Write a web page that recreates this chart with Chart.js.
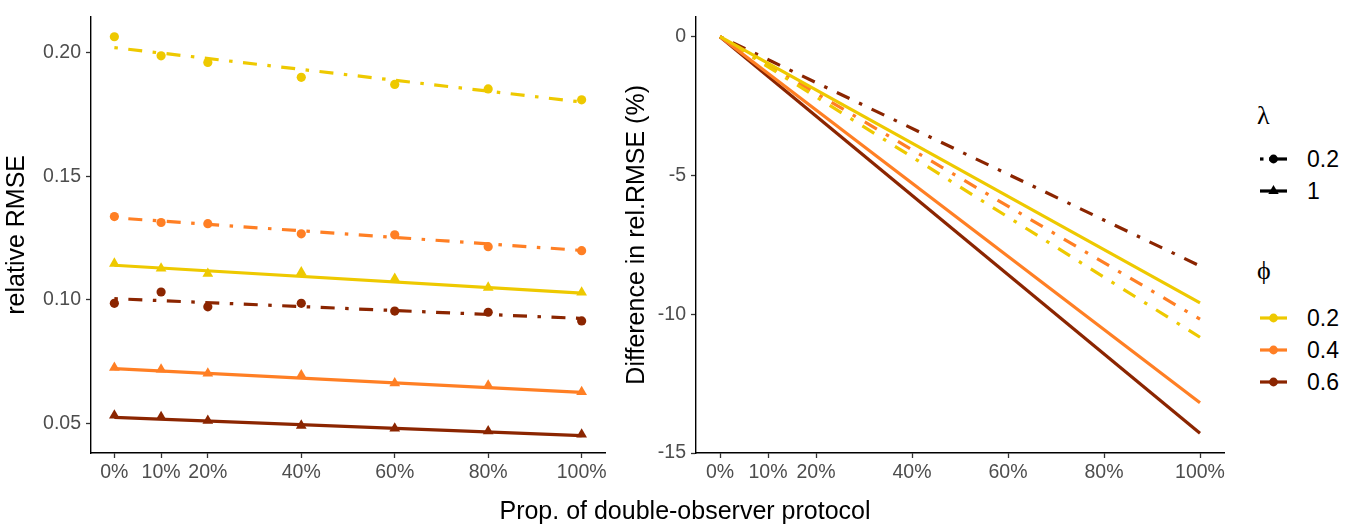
<!DOCTYPE html>
<html>
<head>
<meta charset="utf-8">
<script src="https://cdn.jsdelivr.net/npm/chart.js@4.4.1/dist/chart.umd.min.js"></script>
<style>
  body { margin: 0; background: #fff; font-family: "Liberation Sans", Arial, sans-serif; }
  #wrap { position: relative; width: 1357px; height: 525px; overflow: hidden; }
  canvas { position: absolute; top: 0; }
  .txt { position: absolute; white-space: nowrap; color: #000; }
  .key { position: absolute; }
</style>
</head>
<body>
<div id="wrap">
  <canvas id="leftChart" width="625" height="500" style="left:0px"></canvas>
  <canvas id="rightChart" width="624" height="500" style="left:620px"></canvas>
  <div class="txt" id="xTitle" style="left:0;width:1370px;text-align:center;top:498px;font-size:25px;line-height:25px;">Prop. of double-observer protocol</div>
  <div id="legend"></div>
</div>
<script>
// x values (percent of double-observer protocol)
const xPct = [0, 10, 20, 40, 60, 80, 100];
const fitX = [0, 100];

// left panel: relative RMSE points, lambda = 0.2 (circles)
const rmseLam02Phi02 = [0.2064, 0.1987, 0.1960, 0.1900, 0.1871, 0.1853, 0.1809];
const rmseLam02Phi04 = [0.1337, 0.1313, 0.1308, 0.1267, 0.1263, 0.1215, 0.1199];
const rmseLam02Phi06 = [0.0986, 0.1032, 0.0972, 0.0986, 0.0955, 0.0950, 0.0915];
// lambda = 1 (triangles)
const rmseLam1Phi02 = [0.1147, 0.1127, 0.1106, 0.1112, 0.1086, 0.1050, 0.1030];
const rmseLam1Phi04 = [0.0726, 0.0719, 0.0703, 0.0696, 0.0663, 0.0654, 0.0628];
const rmseLam1Phi06 = [0.0533, 0.0527, 0.0512, 0.0492, 0.0480, 0.0469, 0.0456];

// left panel: fitted trend lines (value at 0% and 100%)
const fitLam02Phi02 = [0.2020, 0.1800];
const fitLam02Phi04 = [0.1332, 0.1200];
const fitLam02Phi06 = [0.1005, 0.0925];
const fitLam1Phi02 = [0.1140, 0.1027];
const fitLam1Phi04 = [0.0722, 0.0626];
const fitLam1Phi06 = [0.0525, 0.0451];

// right panel: difference in rel.RMSE (%) at 0% and 100%
const diffLam02Phi02 = [0, -10.83];
const diffLam02Phi04 = [0, -10.18];
const diffLam02Phi06 = [0, -8.26];
const diffLam1Phi02 = [0, -9.59];
const diffLam1Phi04 = [0, -13.19];
const diffLam1Phi06 = [0, -14.29];

const leftTicks = [0.05, 0.10, 0.15, 0.20];
const rightTicks = [-15, -10, -5, 0];
const phiLabels = ['0.2', '0.4', '0.6'];
const lamLabels = ['0.2', '1'];

const YEL = '#EEC900', ORA = '#FF7F24', DRK = '#8B2500';
const DOTDASH = [3.5, 10.5, 14, 10.5];

function pts(xs, ys) { return xs.map((x, i) => ({x: x, y: ys[i]})); }

function pointSet(ys, color, style) {
  return {
    data: pts(xPct, ys), showLine: false, pointStyle: style,
    pointRadius: style === 'triangle' ? 6.2 : 4.6, backgroundColor: color,
    borderColor: color, borderWidth: 0
  };
}
function lineSet(xs, ys, color, dashed) {
  return {
    data: pts(xs, ys), showLine: true, pointRadius: 0, borderColor: color,
    borderWidth: 3.2, borderDash: dashed ? DOTDASH : [], fill: false, tension: 0
  };
}

function axes(yMin, yMax, yTicks, yFmt, yTitle, yWidth) {
  const tickFont = {family: '"Liberation Sans", Arial', size: 19.5};
  return {
    x: {
      type: 'linear', min: -5, max: 105,
      afterBuildTicks: s => { s.ticks = xPct.map(v => ({value: v})); },
      afterFit: s => { s.height = 47; },
      ticks: {autoSkip: false, maxRotation: 0, padding: 3, color: '#4D4D4D', font: tickFont, callback: v => v + '%'},
      grid: {drawOnChartArea: false, tickLength: 5, color: '#333', tickColor: '#333', tickWidth: 1.3},
      border: {display: true, color: '#000', width: 1.4}
    },
    y: {
      type: 'linear', min: yMin, max: yMax,
      afterBuildTicks: s => { s.ticks = yTicks.map(v => ({value: v})); },
      afterFit: s => { s.width = yWidth; },
      ticks: {padding: 5, color: '#4D4D4D', font: tickFont, callback: yFmt},
      grid: {drawOnChartArea: false, tickLength: 5, color: '#333', tickColor: '#333', tickWidth: 1.3},
      border: {display: true, color: '#000', width: 1.4},
      title: {display: true, text: yTitle, color: '#000', padding: {top: 2, bottom: 0},
        font: {family: '"Liberation Sans", Arial', size: 25}}
    }
  };
}

const baseOpts = {
  responsive: false, animation: false, devicePixelRatio: 1,
  plugins: {legend: {display: false}, tooltip: {enabled: false}},
  layout: {padding: {left: 0, right: 20, top: 9, bottom: 0}}
};

new Chart(document.getElementById('leftChart'), {
  type: 'scatter',
  data: {datasets: [
    pointSet(rmseLam02Phi02, YEL, 'circle'),
    pointSet(rmseLam02Phi04, ORA, 'circle'),
    pointSet(rmseLam02Phi06, DRK, 'circle'),
    pointSet(rmseLam1Phi02, YEL, 'triangle'),
    pointSet(rmseLam1Phi04, ORA, 'triangle'),
    pointSet(rmseLam1Phi06, DRK, 'triangle'),
    lineSet(fitX, fitLam02Phi02, YEL, true),
    lineSet(fitX, fitLam02Phi04, ORA, true),
    lineSet(fitX, fitLam02Phi06, DRK, true),
    lineSet(fitX, fitLam1Phi02, YEL, false),
    lineSet(fitX, fitLam1Phi04, ORA, false),
    lineSet(fitX, fitLam1Phi06, DRK, false)
  ]},
  options: Object.assign({}, baseOpts, {
    scales: axes(0.0381, 0.2145, leftTicks, v => v.toFixed(2), 'relative RMSE', 91)
  })
});

new Chart(document.getElementById('rightChart'), {
  type: 'scatter',
  data: {datasets: [
    lineSet(fitX, diffLam1Phi02, YEL, false),
    lineSet(fitX, diffLam1Phi04, ORA, false),
    lineSet(fitX, diffLam1Phi06, DRK, false),
    lineSet(fitX, diffLam02Phi02, YEL, true),
    lineSet(fitX, diffLam02Phi04, ORA, true),
    lineSet(fitX, diffLam02Phi06, DRK, true)
  ]},
  options: Object.assign({}, baseOpts, {
    scales: axes(-15.0, 0.72, rightTicks, v => String(v), 'Difference in rel.RMSE (%)', 76)
  })
});

// legend (html text + small svg keys)
const legend = document.getElementById('legend');
function addText(txt, x, cy, size, serif) {
  const d = document.createElement('div');
  d.className = 'txt';
  d.textContent = txt;
  d.style.left = x + 'px';
  d.style.top = (cy - size * 0.49) + 'px';
  d.style.fontSize = size + 'px';
  d.style.lineHeight = size + 'px';
  if (serif) d.style.fontFamily = '"Liberation Serif", "DejaVu Serif", serif';
  legend.appendChild(d);
}
function addKey(cy, color, dashed, marker) {
  const w = 27, h = 16, m = h / 2;
  let line = dashed
    ? `<line x1="0" y1="${m}" x2="3.5" y2="${m}" stroke="${color}" stroke-width="3.2"/>` +
      `<line x1="9" y1="${m}" x2="${w}" y2="${m}" stroke="${color}" stroke-width="3.2"/>`
    : `<line x1="0" y1="${m}" x2="${w}" y2="${m}" stroke="${color}" stroke-width="3.2"/>`;
  let mk = marker === 'triangle'
    ? `<polygon points="${w/2},${m-6} ${w/2+5.2},${m+3} ${w/2-5.2},${m+3}" fill="${color}"/>`
    : `<circle cx="${w/2}" cy="${m}" r="4.4" fill="${color}"/>`;
  const s = document.createElement('div');
  s.className = 'key';
  s.style.left = '1260px';
  s.style.top = (cy - m) + 'px';
  s.innerHTML = `<svg width="${w}" height="${h}">${line}${mk}</svg>`;
  legend.appendChild(s);
}

addText('λ', 1257, 116, 26, true);
const lamRows = [159, 191];
lamLabels.forEach((lab, i) => {
  addKey(lamRows[i], '#000', i === 0, i === 0 ? 'circle' : 'triangle');
  addText(lab, 1307, lamRows[i], 23, false);
});
addText('ϕ', 1257, 271, 26, true);
const phiRows = [318, 350, 382];
const phiColors = [YEL, ORA, DRK];
phiLabels.forEach((lab, i) => {
  addKey(phiRows[i], phiColors[i], false, 'circle');
  addText(lab, 1307, phiRows[i], 23, false);
});
</script>
</body>
</html>
